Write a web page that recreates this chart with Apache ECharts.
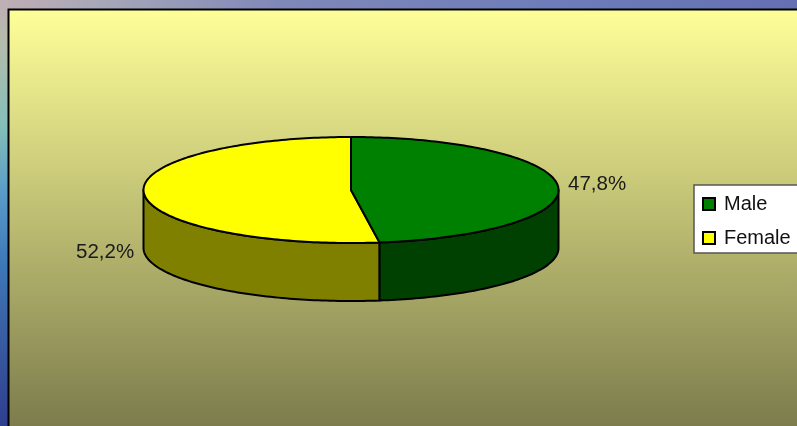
<!DOCTYPE html>
<html><head><meta charset="utf-8">
<style>html,body{margin:0;padding:0;background:#5a6fb0;overflow:hidden}#c{width:797px;height:426px}</style>
<script src="https://cdn.jsdelivr.net/npm/echarts@6/dist/echarts.min.js"></script>
</head><body><div id="c"></div>
<script>
var categories = ['Male', 'Female'];
var values = [47.8, 52.2];
var topColors = ['#008000', '#FFFF00'];
var sideColors = ['#004000', '#808000'];
var labelTexts = ['47,8%', '52,2%'];

var chart = echarts.init(document.getElementById('c'));
var CX = 351, CY = 190, RX = 207.5, RY = 53, DEPTH = 58;
var total = values[0] + values[1];
function pt(a, dy) { return [CX + RX * Math.sin(a), CY - RY * Math.cos(a) + (dy || 0)]; }
function arc(a0, a1, dy) {
  var out = [], n = Math.max(2, Math.ceil(Math.abs(a1 - a0) / 0.02));
  for (var i = 0; i <= n; i++) out.push(pt(a0 + (a1 - a0) * i / n, dy));
  return out;
}
var stroke = { stroke: '#000', lineWidth: 2, lineJoin: 'round' };
function renderSlice(idx) {
  return function (params, api) {
    var v = api.value(0);
    var before = 0;
    for (var i = 0; i < idx; i++) before += values[i];
    var a0 = before / total * 2 * Math.PI, a1 = (before + v) / total * 2 * Math.PI;
    var kids = [];
    var w0 = Math.max(a0, Math.PI / 2), w1 = Math.min(a1, 3 * Math.PI / 2);
    if (w1 > w0) {
      var poly = arc(w0, w1, 0).concat(arc(w1, w0, DEPTH));
      kids.push({ type: 'polygon', z2: 1, shape: { points: poly },
        style: Object.assign({ fill: sideColors[idx] }, stroke) });
    }
    var top = [[CX, CY]].concat(arc(a0, a1, 0));
    kids.push({ type: 'polygon', z2: 2, shape: { points: top },
      style: Object.assign({ fill: topColors[idx] }, stroke) });
    return { type: 'group', children: kids };
  };
}
var seriesList = categories.map(function (name, i) {
  return {
    type: 'custom', name: name, coordinateSystem: 'none', silent: true,
    data: [[values[i]]], renderItem: renderSlice(i),
    itemStyle: { color: topColors[i], borderColor: '#000', borderWidth: 2 },
    animation: false, z: 3 - i
  };
});
chart.setOption({
  animation: false,
  backgroundColor: 'transparent',
  graphic: { elements: [
    { type: 'rect', z: -10, shape: { x: 0, y: 0, width: 797, height: 10 },
      style: { fill: { type: 'linear', x: 0, y: 0, x2: 1, y2: 0, colorStops: [
        { offset: 0, color: '#c0aeb4' }, { offset: 0.12, color: '#a8a8b8' }, { offset: 0.35, color: '#8088b8' },
        { offset: 0.7, color: '#6d7cba' }, { offset: 1, color: '#6570b2' }] } } },
    { type: 'rect', z: -10, shape: { x: 0, y: 0, width: 8, height: 426 },
      style: { fill: { type: 'linear', x: 0, y: 0, x2: 0, y2: 1, colorStops: [
        { offset: 0, color: '#c0aeb4' }, { offset: 0.1, color: '#b4bcac' }, { offset: 0.3, color: '#84beb8' },
        { offset: 0.45, color: '#5a9cc8' }, { offset: 0.62, color: '#3e78b8' }, { offset: 0.82, color: '#38589f' }, { offset: 1, color: '#2e3f90' }] } } },
    { type: 'rect', z: -9, shape: { x: 8.5, y: 9.5, width: 800, height: 430 },
      style: { stroke: '#000', lineWidth: 2, fill: { type: 'linear', x: 0, y: 0, x2: 0, y2: 1, colorStops: [
        { offset: 0, color: '#FFFF99' }, { offset: 0.967, color: '#7C7C4D' }, { offset: 1, color: '#7C7C4D' }] } } },
    { type: 'text', z: 10, style: { text: labelTexts[0], x: 568, y: 174, fill: '#1a1a1a', font: '20.5px "Liberation Sans"' } },
    { type: 'text', z: 10, style: { text: labelTexts[1], x: 76, y: 242, fill: '#1a1a1a', font: '20.5px "Liberation Sans"' } }
  ] },
  legend: {
    left: 694, top: 185, orient: 'vertical', data: categories,
    backgroundColor: '#fff', borderColor: '#555', borderWidth: 1.5, borderRadius: 0,
    padding: [8, 10, 4, 8], itemGap: 12, itemWidth: 12, itemHeight: 12, icon: 'rect', selectedMode: false,
    textStyle: { color: '#111', fontSize: 20, fontFamily: 'Liberation Sans', padding: [0, 0, 0, 4], lineHeight: 22 },
    itemStyle: { borderColor: '#000', borderWidth: 2 }
  },
  series: seriesList
});
</script></body></html>
